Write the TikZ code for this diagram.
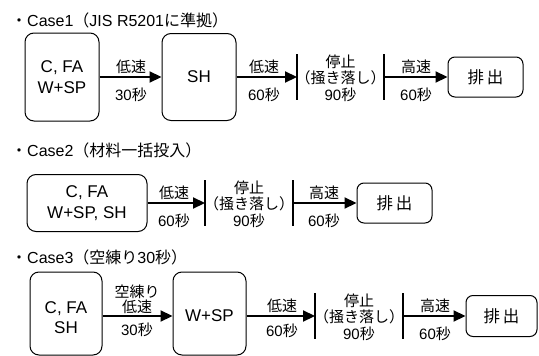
\documentclass[tikz,border=0pt]{standalone}
\usepackage{fontspec}
\setmainfont{Liberation Sans}
\newfontfamily\cjk{Noto Sans CJK JP}
\newcommand\jtxt[1]{{\cjk #1}}
\usetikzlibrary{arrows.meta}
\tikzset{
  box/.style={draw, line width=1pt, rounded corners=9pt, inner sep=0pt, align=center,
    font=\fontsize{17}{21}\selectfont},
  outbox/.style={draw, line width=1pt, rounded corners=7pt, inner sep=0pt,
    font=\fontsize{16.5}{16.5}\selectfont},
  flow/.style={line width=2.2pt, -{Triangle[length=12pt,width=11pt]}},
  bar/.style={line width=1.2pt},
  lab/.style={inner sep=0pt, font=\fontsize{15}{15}\selectfont},
  stoptxt/.style={inner sep=0pt, align=center, font=\fontsize{15}{16.5}\selectfont},
  title/.style={inner sep=0pt, anchor=west, font=\fontsize{16}{16}\selectfont},
  boxtxt/.style={inner sep=0pt, align=center, font=\fontsize{17}{20}\selectfont}
}
\begin{document}
\begin{tikzpicture}[x=1pt,y=-1pt]
\useasboundingbox (0,0) rectangle (539,356);
% ---------- Case 1 ----------
\node[title] (t1) at (11,20) {\jtxt{・}Case1\jtxt{（}JIS R5201\jtxt{に準拠）}};
\node[box, minimum width=74pt, minimum height=88pt] (b11) at (62,77) {C, FA\\W+SP};
\node[box, minimum width=74pt, minimum height=87pt] (b12) at (199,77) {SH};
\coordinate (v11) at (297,77);
\coordinate (v12) at (384,77);
\node[outbox, minimum width=75pt, minimum height=40pt] (o1) at (485.5,77) {\jtxt{排\,出}};
\draw[flow] (b11.east) -- (b12.west);
\draw[flow] (b12.east) -- (v11);
\draw[flow] (v12) -- (o1.west);
\draw[bar] (297,54) -- (297,100);
\draw[bar] (384,54) -- (384,100);
\node[lab] (l11) at (131,67) {\jtxt{低速}};
\node[lab] (l12) at (131,95) {30\jtxt{秒}};
\node[lab] (l13) at (264,67) {\jtxt{低速}};
\node[lab] (l14) at (264,95) {60\jtxt{秒}};
\node[stoptxt] (s1) at (340.5,78) {\jtxt{停止}\\\jtxt{（掻き落し）}\\90\jtxt{秒}};
\node[lab] (l15) at (416,67) {\jtxt{高速}};
\node[lab] (l16) at (416,95) {60\jtxt{秒}};
% ---------- Case 2 ----------
\node[title] (t2) at (11,150) {\jtxt{・}Case2\jtxt{（材料一括投入）}};
\node[box, minimum width=120pt, minimum height=57pt] (b21) at (87,203) {C, FA\\W+SP, SH};
\coordinate (v21) at (205,203);
\coordinate (v22) at (293,203);
\node[outbox, minimum width=75pt, minimum height=40pt] (o2) at (394.5,203) {\jtxt{排\,出}};
\draw[flow] (b21.east) -- (v21);
\draw[flow] (v22) -- (o2.west);
\draw[bar] (205,180) -- (205,226);
\draw[bar] (293,180) -- (293,226);
\node[lab] (l21) at (174,193) {\jtxt{低速}};
\node[lab] (l22) at (174,221) {60\jtxt{秒}};
\node[stoptxt] (s2) at (249,204) {\jtxt{停止}\\\jtxt{（掻き落し）}\\90\jtxt{秒}};
\node[lab] (l23) at (324,193) {\jtxt{高速}};
\node[lab] (l24) at (324,221) {60\jtxt{秒}};
% ---------- Case 3 ----------
\node[title] (t3) at (11,257) {\jtxt{・}Case3\jtxt{（空練り}30\jtxt{秒）}};
\node[box, minimum width=72pt, minimum height=83pt] (b31) at (66,313.5) {};
\node[boxtxt] (b31t) at (66,318) {C, FA\\SH};
\node[box, minimum width=73pt, minimum height=83pt] (b32) at (209.5,313.5) {};
\node[boxtxt] (b32t) at (209.5,316) {W+SP};
\coordinate (v31) at (315,316);
\coordinate (v32) at (403,316);
\node[outbox, minimum width=71pt, minimum height=41pt] (o3) at (501.5,316) {\jtxt{排\,出}};
\draw[flow] (b31.east |- v31) -- (b32.west |- v31);
\draw[flow] (b32.east |- v31) -- (v31);
\draw[flow] (v32) -- (o3.west);
\draw[bar] (315,293) -- (315,339);
\draw[bar] (403,293) -- (403,339);
\node[lab] (l31) at (137,292) {\jtxt{空練り}};
\node[lab] (l32) at (137,307) {\jtxt{低速}};
\node[lab] (l33) at (137,330) {30\jtxt{秒}};
\node[lab] (l34) at (282,306) {\jtxt{低速}};
\node[lab] (l35) at (282,331) {60\jtxt{秒}};
\node[stoptxt] (s3) at (359,317) {\jtxt{停止}\\\jtxt{（掻き落し）}\\90\jtxt{秒}};
\node[lab] (l36) at (435,306) {\jtxt{高速}};
\node[lab] (l37) at (435,334) {60\jtxt{秒}};
\end{tikzpicture}
\end{document}
